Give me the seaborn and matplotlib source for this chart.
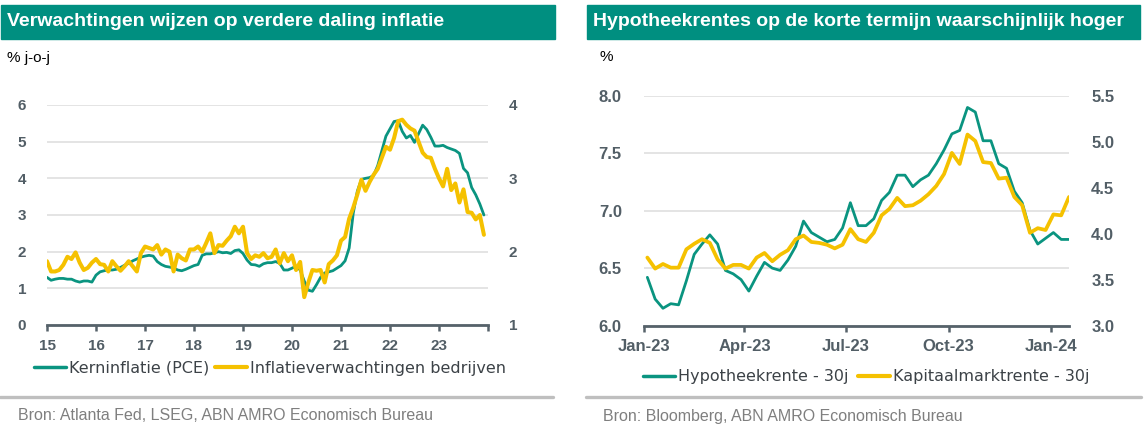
import numpy as np
import pandas as pd
import matplotlib
matplotlib.use("Agg")
import matplotlib.pyplot as plt
from matplotlib.patches import Rectangle
from matplotlib.lines import Line2D
import seaborn as sns

# ---------------- data: left chart (monthly, Jan 2015 - Dec 2023) ----------------
core_pce = [
    1.30, 1.22, 1.25, 1.27, 1.27, 1.25, 1.25, 1.20, 1.17, 1.20, 1.20, 1.17,
    1.36, 1.45, 1.48, 1.50, 1.50, 1.52, 1.57, 1.63, 1.68, 1.75, 1.80, 1.85,
    1.88, 1.90, 1.88, 1.73, 1.65, 1.60, 1.58, 1.56, 1.50, 1.48, 1.52, 1.57,
    1.62, 1.65, 1.90, 1.94, 1.94, 1.97, 2.00, 1.97, 1.98, 1.95, 2.03, 2.05,
    1.95, 1.77, 1.65, 1.64, 1.60, 1.67, 1.70, 1.70, 1.73, 1.68, 1.50, 1.50,
    1.55, 1.60, 1.50, 1.20, 0.95, 0.92, 1.10, 1.30, 1.42, 1.45, 1.48, 1.55,
    1.62, 1.75, 2.10, 3.05, 3.65, 3.97, 4.00, 4.02, 4.08, 4.35, 4.75, 5.15,
    5.35, 5.55, 5.57, 5.28, 5.10, 5.17, 4.98, 5.22, 5.45, 5.33, 5.12, 4.88,
    4.88, 4.90, 4.84, 4.80, 4.76, 4.68, 4.27, 4.15, 3.75, 3.55, 3.30, 3.00,
]
bie_expect = [
    1.87, 1.73, 1.73, 1.75, 1.82, 1.93, 1.90, 1.99, 1.85, 1.75, 1.78, 1.85,
    1.90, 1.83, 1.82, 1.73, 1.87, 1.80, 1.74, 1.80, 1.87, 1.80, 1.73, 1.98,
    2.07, 2.05, 2.03, 2.09, 1.96, 2.03, 2.00, 1.73, 1.96, 1.91, 1.88, 2.03,
    2.03, 2.07, 2.00, 2.12, 2.25, 1.98, 2.09, 2.08, 2.15, 2.21, 2.34, 2.25,
    2.34, 1.98, 1.90, 1.95, 1.93, 1.98, 1.91, 1.93, 2.03, 1.84, 1.98, 1.87,
    1.95, 1.75, 1.86, 1.38, 1.58, 1.75, 1.74, 1.75, 1.58, 1.83, 1.88, 1.95,
    2.15, 2.20, 2.45, 2.60, 2.78, 2.98, 2.83, 2.95, 3.05, 3.13, 3.28, 3.43,
    3.39, 3.55, 3.78, 3.80, 3.73, 3.68, 3.65, 3.50, 3.35, 3.29, 3.28, 3.13,
    3.00, 2.89, 3.13, 2.84, 2.93, 2.67, 2.85, 2.54, 2.53, 2.44, 2.50, 2.23,
]
left_start_year = 2015
year_ticks = [2015, 2016, 2017, 2018, 2019, 2020, 2021, 2022, 2023, 2024]
year_labels = ["15", "16", "17", "18", "19", "20", "21", "22", "23", ""]
left_yticks = [0, 1, 2, 3, 4, 5, 6]
left_y2ticks = [1, 2, 3, 4]

# ---------------- data: right chart (weekly, Jan 2023 - Jan 2024) ----------------
mortgage_30y = [
    6.42, 6.23, 6.15, 6.19, 6.18, 6.39, 6.62, 6.71, 6.79, 6.71, 6.48, 6.45,
    6.40, 6.30, 6.43, 6.55, 6.50, 6.48, 6.57, 6.69, 6.91, 6.81, 6.77, 6.73,
    6.75, 6.85, 7.07, 6.87, 6.87, 6.93, 7.09, 7.16, 7.31, 7.31, 7.21, 7.27,
    7.31, 7.41, 7.53, 7.67, 7.70, 7.90, 7.86, 7.61, 7.61, 7.41, 7.37, 7.17,
    7.07, 6.83, 6.71, 6.76, 6.81, 6.75, 6.75,
]
treasury_30y = [
    3.74, 3.62, 3.67, 3.63, 3.63, 3.83, 3.89, 3.94, 3.90, 3.72, 3.62, 3.66,
    3.66, 3.62, 3.74, 3.79, 3.70, 3.77, 3.82, 3.94, 3.98, 3.91, 3.90, 3.88,
    3.84, 3.88, 4.05, 3.94, 3.91, 4.01, 4.20, 4.27, 4.39, 4.30, 4.31, 4.36,
    4.43, 4.52, 4.65, 4.88, 4.76, 5.08, 5.01, 4.78, 4.77, 4.60, 4.61, 4.40,
    4.31, 4.01, 4.06, 4.04, 4.21, 4.20, 4.40,
]
first_week = "2023-01-04"
date_ticks = ["2023-01-01", "2023-04-01", "2023-07-01", "2023-10-01", "2024-01-01"]
date_labels = ["Jan-23", "Apr-23", "Jul-23", "Oct-23", "Jan-24"]
right_yticks = [6.0, 6.5, 7.0, 7.5, 8.0]
right_y2ticks = [3.0, 3.5, 4.0, 4.5, 5.0, 5.5]

# ---------------- texts ----------------
title_left = "Verwachtingen wijzen op verdere daling inflatie"
title_right = "Hypotheekrentes op de korte termijn waarschijnlijk hoger"
unit_left = "% j-o-j"
unit_right = "%"
legend_left = ["Kerninflatie (PCE)", "Inflatieverwachtingen bedrijven"]
legend_right = ["Hypotheekrente - 30j", "Kapitaalmarktrente - 30j"]
source_left = "Bron: Atlanta Fed, LSEG, ABN AMRO Economisch Bureau"
source_right = "Bron: Bloomberg, ABN AMRO Economisch Bureau"

# ---------------- style ----------------
sns.set_theme(style="white")
plt.rcParams["font.family"] = ["Liberation Sans", "DejaVu Sans"]

HEADER = "#008F80"
TEAL = "#0A9480"
GOLD = "#F5C100"
AXIS = "#56626A"
TICK = "#525E66"
GRID = "#DCDCDC"
SEP = "#BFBFBF"
SRC = "#7F7F7F"
LEG = "#3C4247"

W, H = 1145, 429
fig = plt.figure(figsize=(W / 100, H / 100), dpi=100, facecolor="white")


def fx(px):
    return px / W


def fy(py):
    return 1 - py / H


def style_axes(ax, ax2, size):
    for s in ["top", "left", "right"]:
        ax.spines[s].set_visible(False)
    for s in ax2.spines.values():
        s.set_visible(False)
    ax.spines["bottom"].set_color(AXIS)
    ax.spines["bottom"].set_linewidth(2.0)
    ax.set_facecolor("none")
    ax2.set_facecolor("none")
    ax.grid(axis="y", color=GRID, linewidth=1.1)
    ax.grid(axis="x", visible=False)
    ax2.grid(False)
    ax.set_axisbelow(True)
    ax.tick_params(axis="x", direction="out", length=4, width=1.8, color=AXIS,
                   colors=TICK, bottom=True, labelsize=size)
    ax.tick_params(axis="y", length=0, colors=TICK, labelsize=size)
    ax2.tick_params(axis="y", length=0, colors=TICK, labelsize=size)
    for lab in ax.get_xticklabels() + ax.get_yticklabels() + ax2.get_yticklabels():
        lab.set_fontweight("bold")
    ax.set_xlabel("")
    ax.set_ylabel("")
    ax2.set_xlabel("")
    ax2.set_ylabel("")


# ---------------- left chart ----------------
months = np.arange(len(core_pce))
left_x = left_start_year + months / 12.0
df_left = pd.DataFrame({"x": left_x, "pce": core_pce, "bie": bie_expect})

axL = fig.add_axes([fx(47), fy(325), fx(488) - fx(47), (325 - 105) / H])
axL2 = axL.twinx()
sns.lineplot(data=df_left, x="x", y="pce", ax=axL, color=TEAL, linewidth=2.0)
sns.lineplot(data=df_left, x="x", y="bie", ax=axL2, color=GOLD, linewidth=2.9)
axL.set_xlim(2015, 2024)
axL.set_ylim(0, 6)
axL2.set_ylim(1, 4)
axL.set_xticks(year_ticks)
axL.set_xticklabels(year_labels)
axL.set_yticks(left_yticks)
axL.set_yticklabels([str(v) for v in left_yticks])
axL2.set_yticks(left_y2ticks)
axL2.set_yticklabels([str(v) for v in left_y2ticks])
style_axes(axL, axL2, 11)
axL.tick_params(axis="x", pad=6)
axL.tick_params(axis="y", pad=15)
axL2.tick_params(axis="y", pad=15)

# ---------------- right chart ----------------
dates = pd.date_range(first_week, periods=len(mortgage_30y), freq="7D")
df_right = pd.DataFrame({"date": dates, "mort": mortgage_30y, "tsy": treasury_30y})

axR = fig.add_axes([fx(644), fy(325.5), fx(1069) - fx(644), (325.5 - 96) / H])
axR2 = axR.twinx()
sns.lineplot(data=df_right, x="date", y="mort", ax=axR, color=TEAL, linewidth=2.0)
sns.lineplot(data=df_right, x="date", y="tsy", ax=axR2, color=GOLD, linewidth=2.7)
axR.set_xlim(pd.Timestamp("2023-01-01"), pd.Timestamp("2024-01-17"))
axR.set_ylim(6.0, 8.0)
axR2.set_ylim(3.0, 5.5)
axR.set_xticks(pd.to_datetime(date_ticks))
axR.set_xticklabels(date_labels)
axR.set_yticks(right_yticks)
axR.set_yticklabels([f"{v:.1f}" for v in right_yticks])
axR2.set_yticks(right_y2ticks)
axR2.set_yticklabels([f"{v:.1f}" for v in right_y2ticks])
style_axes(axR, axR2, 12)
axR.tick_params(axis="x", pad=6)
axR.tick_params(axis="y", pad=16)
axR2.tick_params(axis="y", pad=16)

# ---------------- headers, units, legends, sources ----------------
fig.add_artist(Rectangle((fx(1), fy(39)), fx(555) - fx(1), 34 / H,
                         transform=fig.transFigure, color=HEADER, zorder=0))
fig.add_artist(Rectangle((fx(587), fy(39)), fx(1140) - fx(587), 34 / H,
                         transform=fig.transFigure, color=HEADER, zorder=0))
fig.text(fx(7), fy(22), title_left, color="white", fontsize=14,
         fontweight="bold", ha="left", va="center")
fig.text(fx(593), fy(22), title_right, color="white", fontsize=14,
         fontweight="bold", ha="left", va="center")
fig.text(fx(7), fy(58), unit_left, color="black", fontsize=11, ha="left", va="center")
fig.text(fx(600), fy(57), unit_right, color="black", fontsize=11, ha="left", va="center")

leg_prop = {"family": "DejaVu Sans", "size": 11.5}
handlesL = [Line2D([], [], color=TEAL, lw=2.5), Line2D([], [], color=GOLD, lw=3.0)]
legL = fig.legend(handlesL, legend_left, loc="center", bbox_to_anchor=(fx(270), fy(368)),
                  ncol=2, frameon=False, handlelength=2.0, handletextpad=0.2,
                  columnspacing=0.35, borderpad=0, prop=leg_prop)
for t in legL.get_texts():
    t.set_color(LEG)

handlesR = [Line2D([], [], color=TEAL, lw=2.5), Line2D([], [], color=GOLD, lw=3.0)]
legR = fig.legend(handlesR, legend_right, loc="center", bbox_to_anchor=(fx(866), fy(377)),
                  ncol=2, frameon=False, handlelength=2.0, handletextpad=0.2,
                  columnspacing=0.6, borderpad=0, prop=leg_prop)
for t in legR.get_texts():
    t.set_color(LEG)

fig.add_artist(Line2D([fx(0), fx(553)], [fy(397), fy(397)], color=SEP, lw=2.4,
                      transform=fig.transFigure))
fig.add_artist(Line2D([fx(586), fx(1141)], [fy(397), fy(397)], color=SEP, lw=2.4,
                      transform=fig.transFigure))
fig.text(fx(18), fy(416), source_left, color=SRC, fontsize=11.5, ha="left", va="center")
fig.text(fx(603), fy(416), source_right, color=SRC, fontsize=11.5, ha="left", va="center")

fig.savefig("out.png", dpi=100, facecolor="white")
